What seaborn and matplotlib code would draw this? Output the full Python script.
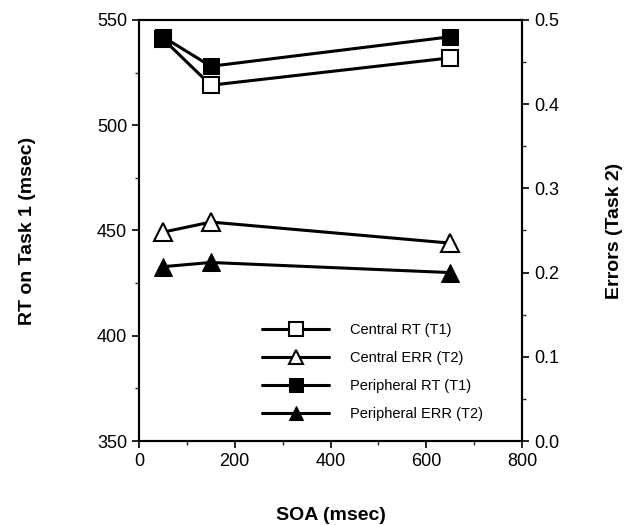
import numpy as np
import pandas as pd
import matplotlib
matplotlib.use("Agg")
import matplotlib.pyplot as plt
import seaborn as sns
from matplotlib.ticker import MultipleLocator

# Data
soa = [50, 150, 650]
central_rt = [541, 519, 532]
peripheral_rt = [542, 528, 542]
central_err = [0.248, 0.26, 0.235]
peripheral_err = [0.207, 0.212, 0.20]

sns.set_theme(style="ticks")
plt.rcParams['font.family'] = ['Liberation Sans', 'DejaVu Sans']

fig = plt.figure(figsize=(6.26, 5.25), dpi=100)
ax = fig.add_axes([0.222, 0.16, 0.612, 0.802])
ax2 = ax.twinx()

lw = 2.2
ms = 12
sns.lineplot(x=soa, y=central_rt, ax=ax, color='black', lw=lw, marker='s', ms=ms,
             mfc='white', mec='black', mew=1.5, label='Central RT (T1)', legend=False)
sns.lineplot(x=soa, y=peripheral_rt, ax=ax, color='black', lw=lw, marker='s', ms=ms,
             mfc='black', mec='black', label='Peripheral RT (T1)', legend=False)
sns.lineplot(x=soa, y=central_err, ax=ax2, color='black', lw=lw, marker='^', ms=ms + 1,
             mfc='white', mec='black', mew=1.5, label='Central ERR (T2)', legend=False)
sns.lineplot(x=soa, y=peripheral_err, ax=ax2, color='black', lw=lw, marker='^', ms=ms + 1,
             mfc='black', mec='black', label='Peripheral ERR (T2)', legend=False)

ax.set_xlim(0, 800)
ax.set_ylim(350, 550)
ax2.set_ylim(0, 0.5)

ax.xaxis.set_major_locator(MultipleLocator(200))
ax.xaxis.set_minor_locator(MultipleLocator(100))
ax.yaxis.set_major_locator(MultipleLocator(50))
ax.yaxis.set_minor_locator(MultipleLocator(25))
ax2.yaxis.set_major_locator(MultipleLocator(0.1))
ax2.yaxis.set_minor_locator(MultipleLocator(0.05))
ax2.yaxis.set_major_formatter(matplotlib.ticker.FormatStrFormatter('%.1f'))

for a in (ax, ax2):
    for s in a.spines.values():
        s.set_linewidth(1.5)
        s.set_color('black')
    a.tick_params(which='major', length=5, width=1.2, labelsize=13, colors='black')
    a.tick_params(which='minor', length=3, width=1.0)

ax.set_xlabel('SOA (msec)', fontsize=14, fontweight='bold', labelpad=27, color='black')
ax.set_ylabel('RT on Task 1 (msec)', fontsize=14, fontweight='bold', labelpad=44, color='black')
ax2.set_ylabel('Errors (Task 2)', fontsize=14, fontweight='bold', labelpad=34, color='black')

h1, l1 = ax.get_legend_handles_labels()
h2, l2 = ax2.get_legend_handles_labels()
handles = [h1[0], h2[0], h1[1], h2[1]]
labels = [l1[0], l2[0], l1[1], l2[1]]
ax.legend(handles, labels, loc='lower left', bbox_to_anchor=(0.287, 0.017), frameon=False,
          fontsize=10.5, handlelength=4.6, markerscale=0.8, labelspacing=0.95,
          handletextpad=1.4, labelcolor='black')

fig.savefig('out.png', dpi=100)
